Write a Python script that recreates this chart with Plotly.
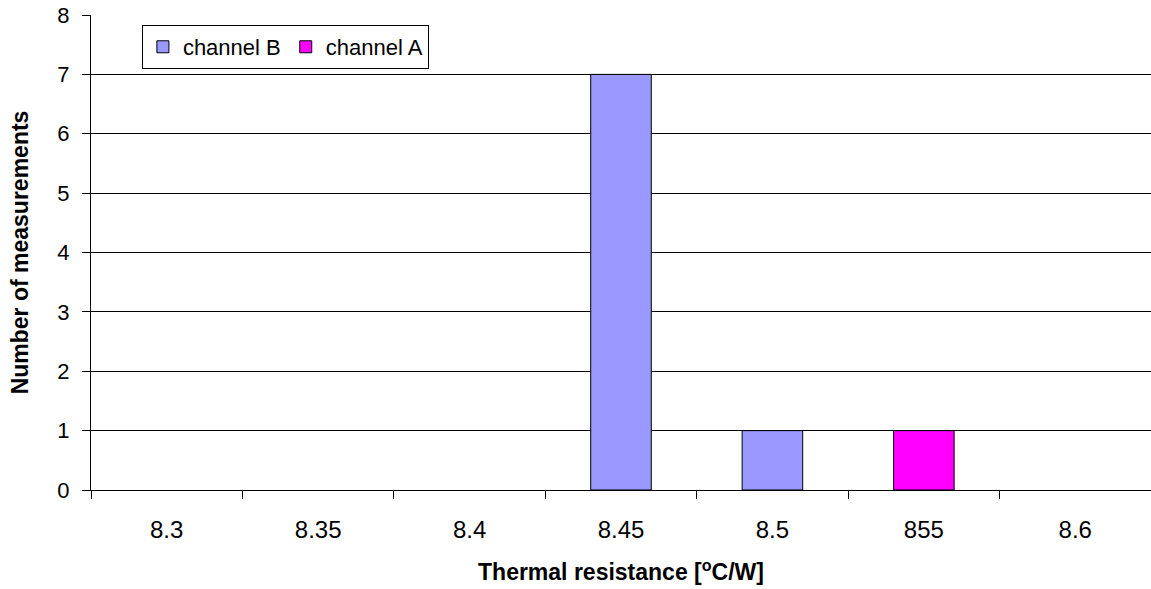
import plotly.graph_objects as go

categories = ["8.3", "8.35", "8.4", "8.45", "8.5", "855", "8.6"]
channel_b = [0, 0, 0, 7, 1, 0, 0]
channel_a = [0, 0, 0, 0, 0, 1, 0]
y_ticks = [0, 1, 2, 3, 4, 5, 6, 7, 8]

FONT = "Liberation Sans, Arial, sans-serif"


def drawn(values):
    # empty (zero-count) bars are not drawn in the original chart
    return [v if v else None for v in values]


fig = go.Figure()
fig.add_trace(go.Bar(x=categories, y=drawn(channel_b), name="channel B", width=0.4,
                     marker=dict(color="#9999FF", line=dict(color="black", width=1))))
fig.add_trace(go.Bar(x=categories, y=drawn(channel_a), name="channel A", width=0.4,
                     marker=dict(color="#FF00FF", line=dict(color="black", width=1))))

fig.update_layout(
    width=1151, height=589,
    margin=dict(l=91, r=0, t=15, b=99),
    paper_bgcolor="white", plot_bgcolor="white",
    barmode="overlay",
    font=dict(family=FONT, size=22, color="black"),
    showlegend=True,
    legend=dict(orientation="h", x=0.048, y=0.979, xanchor="left", yanchor="top",
                bordercolor="black", borderwidth=1, bgcolor="white",
                font=dict(size=22), itemwidth=30, tracegroupgap=0),
    xaxis=dict(type="category", range=[-0.5, 6.5], tickson="boundaries",
               ticks="outside", ticklen=8, tickcolor="black", showgrid=False,
               showline=True, linecolor="black", linewidth=1,
               tickfont=dict(size=24), ticklabelstandoff=18,
               title=dict(text="<b>Thermal resistance [<sup>o</sup>C/W]</b>",
                          font=dict(size=23), standoff=22)),
    yaxis=dict(range=[0, 8], tickvals=y_ticks, ticks="outside", ticklen=8,
               tickcolor="black", showgrid=True, gridcolor="black", gridwidth=1,
               showline=True, linecolor="black", linewidth=1, zeroline=False,
               tickfont=dict(size=22), ticklabelstandoff=8,
               title=dict(text="<b>Number of measurements</b>",
                          font=dict(size=23), standoff=22)),
)

fig.write_html("out.html")
